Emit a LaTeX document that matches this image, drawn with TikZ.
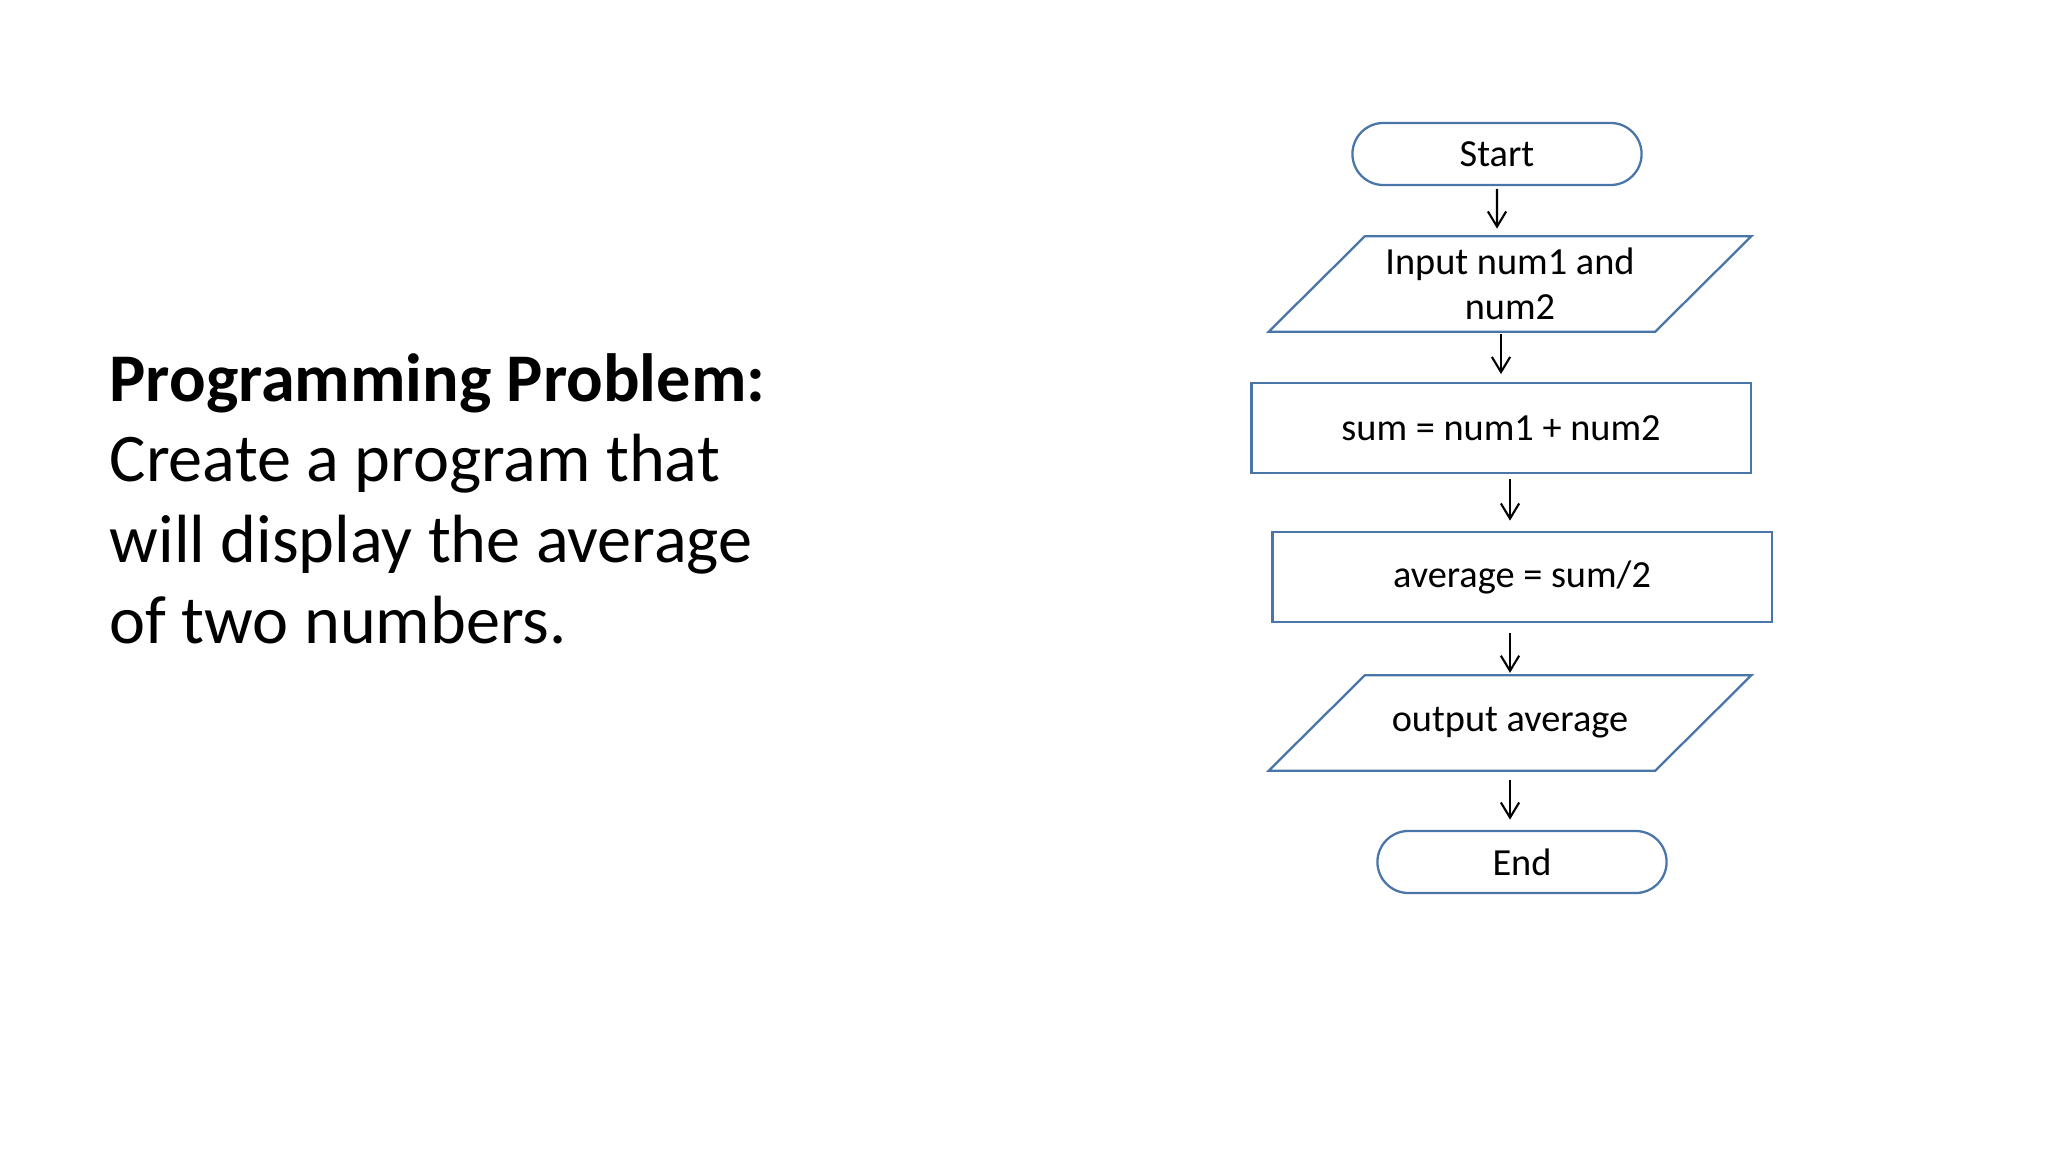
\documentclass[tikz,border=0pt]{standalone}
\usepackage{fontspec}
\setmainfont{Carlito}
\usetikzlibrary{arrows.meta,shapes.misc}

\definecolor{lineblue}{RGB}{74,117,168}

\begin{document}
\begin{tikzpicture}[x=0.01cm,y=-0.01cm]

\tikzset{
    box/.style={rectangle,draw=lineblue,line width=0.65pt,inner sep=0pt,
        font=\fontsize{10.9}{12.8}\selectfont},
    term/.style={box,rounded rectangle,minimum width=2.89cm,minimum height=0.62cm},
    io/.style={box,draw=none,minimum width=3.84cm,minimum height=0.93cm,align=center,
        append after command={\pgfextra{\draw[draw=lineblue,line width=0.65pt]
            ([xshift=0.48cm]\tikzlastnode.north west) -- ([xshift=0.48cm]\tikzlastnode.north east)
            -- ([xshift=-0.48cm]\tikzlastnode.south east) -- ([xshift=-0.48cm]\tikzlastnode.south west)
            -- cycle;}}},
    proc/.style={box,minimum width=4.99cm,minimum height=0.9cm},
    arr/.style={-{Straight Barb[length=4.3pt,width=5.2pt]},line width=0.6pt}}

\useasboundingbox (0,0) rectangle (2048,1152);

\node[anchor=base west,align=left,inner sep=0pt,
    font=\fontsize{19.4}{22.9}\selectfont] (prob) at (109,643)
    {\textbf{Programming Problem:}\\Create a program that\\will display the average\\of two numbers.};

\node[term] (start) at (1497,154) {Start};
\node[io] (in) at (1510,284) {Input num1 and\\num2};
\node[proc] (sum) at (1501,428) {sum = num1 + num2};
\node[proc] (avg) at (1522,577) {average = sum/2};
\node[io] (out) at (1510,723) {output average};
\node[term] (end) at (1522,862) {End};

\draw[arr,shorten <=0.8pt,shorten >=2.2pt] (start) -- (in.north -| start);
\draw[arr,shorten <=0.8pt,shorten >=2.2pt] (in.south -| sum) -- (sum.north);
\draw[arr,shorten <=1.4pt,shorten >=2.9pt] (sum.south -| out) -- (avg.north -| out);
\draw[arr,shorten <=2.8pt,shorten >=0.7pt] (avg.south -| out) -- (out.north);
\draw[arr,shorten <=2.6pt,shorten >=2.9pt] (out.south) -- (end.north -| out);

\end{tikzpicture}
\end{document}
